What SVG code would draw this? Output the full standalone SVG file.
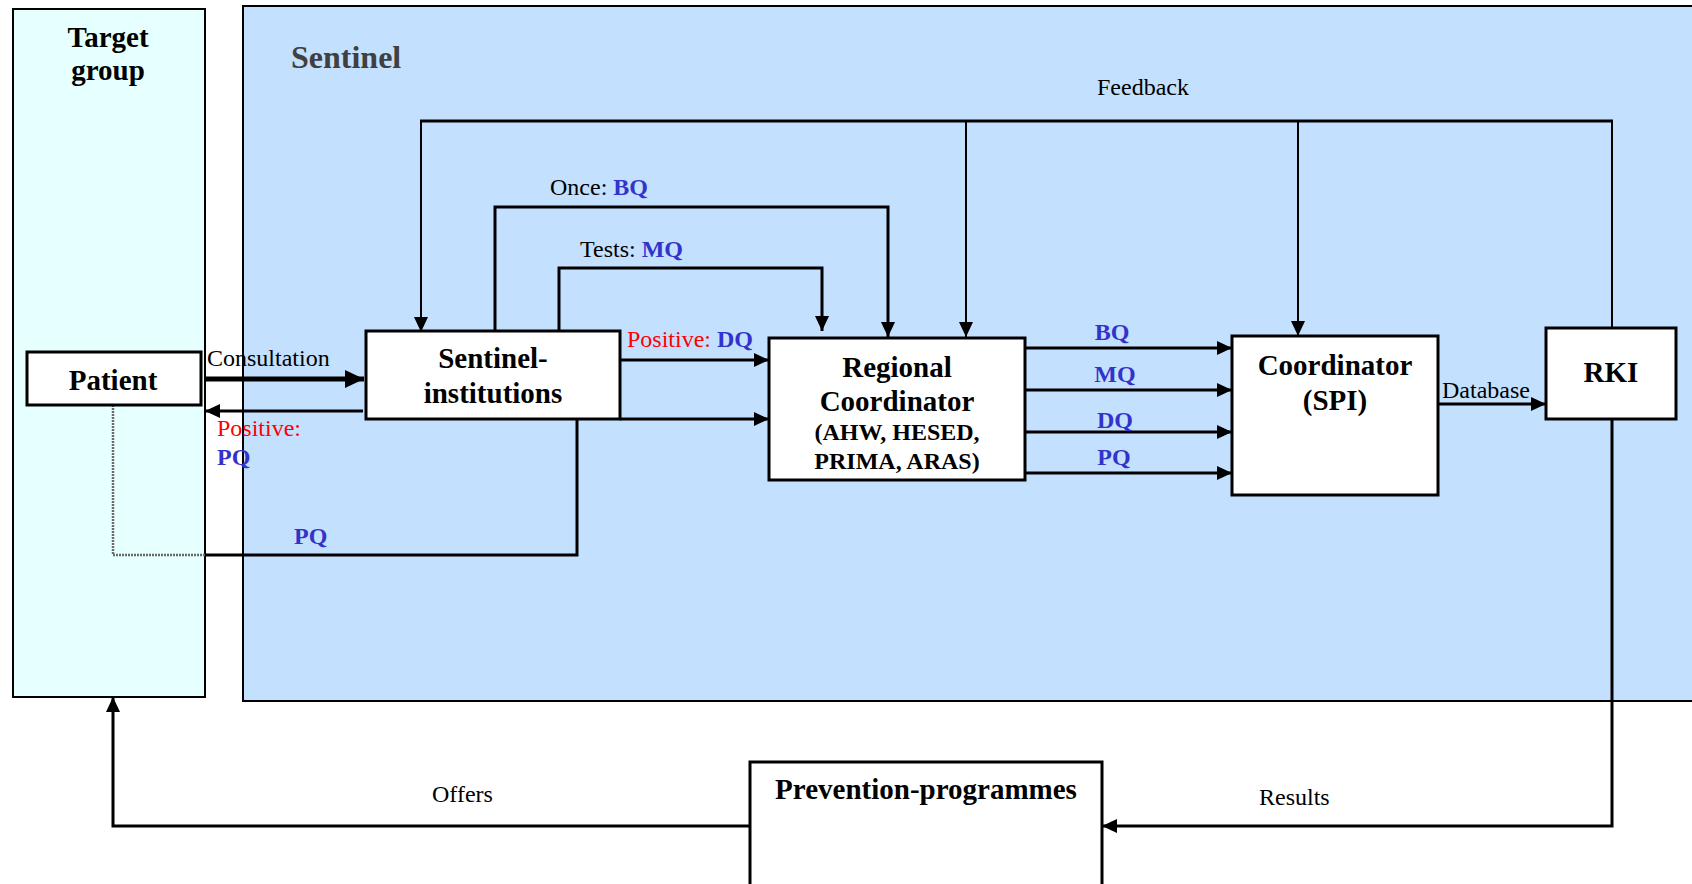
<svg xmlns="http://www.w3.org/2000/svg" width="1692" height="884" viewBox="0 0 1692 884">
<style>
.t{font-family:"Liberation Serif","Times New Roman",serif;fill:#000}
.lbl{font-size:24px}
.bt{font-size:29px;font-weight:bold;text-anchor:middle}
.st{font-size:24px;font-weight:bold;text-anchor:middle}
.blue{fill:#3333CC;font-weight:bold}
.red{fill:#FF0000}
.box{fill:#fff;stroke:#000;stroke-width:3}
.ln{fill:none;stroke:#000;stroke-width:3}
.thin{fill:none;stroke:#000;stroke-width:2}
</style>
<defs>
<marker id="ah" markerUnits="userSpaceOnUse" markerWidth="15" markerHeight="14" refX="15" refY="7" orient="auto">
<path d="M0,0 L15,7 L0,14 z" fill="#000"/>
</marker>
<marker id="ahb" markerUnits="userSpaceOnUse" markerWidth="19" markerHeight="18" refX="19" refY="9" orient="auto">
<path d="M0,0 L19,9 L0,18 z" fill="#000"/>
</marker>
</defs>
<rect width="1692" height="884" fill="#fff"/>
<g id="target-group">
<rect x="13" y="9" width="192" height="688" fill="#E6FFFF" stroke="#000" stroke-width="2"/>
<text class="t bt" x="108" y="47">Target</text>
<text class="t bt" x="108" y="80">group</text>
</g>
<g id="sentinel">
<rect x="243" y="6" width="1480" height="695" fill="#C4E0FF" stroke="#000" stroke-width="2"/>
<text class="t" x="291" y="68" font-size="32" font-weight="bold" style="fill:#404040">Sentinel</text>
</g>
<g id="connectors">
<line class="ln" x1="205" y1="379" x2="364" y2="379" style="stroke-width:5" marker-end="url(#ahb)"/>
<line class="ln" x1="363" y1="411" x2="205" y2="411" marker-end="url(#ah)"/>
<line class="ln" x1="420" y1="121" x2="1613" y2="121"/>
<line class="thin" x1="421" y1="121" x2="421" y2="332" marker-end="url(#ah)"/>
<line class="thin" x1="966" y1="121" x2="966" y2="337" marker-end="url(#ah)"/>
<line class="thin" x1="1298" y1="121" x2="1298" y2="336" marker-end="url(#ah)"/>
<line class="thin" x1="1612" y1="121" x2="1612" y2="328"/>
<path class="ln" d="M495,331 V207 H888 V337" marker-end="url(#ah)"/>
<path class="ln" d="M559,331 V268 H822 V331" marker-end="url(#ah)"/>
<line class="ln" x1="620" y1="360" x2="769" y2="360" marker-end="url(#ah)"/>
<line class="ln" x1="620" y1="419" x2="769" y2="419" marker-end="url(#ah)"/>
<line class="ln" x1="1025" y1="348" x2="1232" y2="348" marker-end="url(#ah)"/>
<line class="ln" x1="1025" y1="390" x2="1232" y2="390" marker-end="url(#ah)"/>
<line class="ln" x1="1025" y1="432" x2="1232" y2="432" marker-end="url(#ah)"/>
<line class="ln" x1="1025" y1="473" x2="1232" y2="473" marker-end="url(#ah)"/>
<line class="ln" x1="1438" y1="404" x2="1546" y2="404" marker-end="url(#ah)"/>
<path class="ln" d="M1612,419 V826 H1102" marker-end="url(#ah)"/>
<path class="ln" d="M750,826 H113 V697" marker-end="url(#ah)"/>
<path d="M113,405 V555 H205" fill="none" stroke="#6a6a6a" stroke-width="2.5" stroke-dasharray="2 1"/>
<path class="ln" d="M205,555 H577 V419"/>
<text class="t lbl" x="1143" y="95" text-anchor="middle">Feedback</text>
<text class="t lbl" x="550" y="195">Once: <tspan class="blue">BQ</tspan></text>
<text class="t lbl" x="580" y="257">Tests: <tspan class="blue">MQ</tspan></text>
<text class="t lbl" x="627" y="347"><tspan class="red">Positive: </tspan><tspan class="blue">DQ</tspan></text>
<text class="t lbl" x="207" y="366">Consultation</text>
<text class="t lbl red" x="217" y="436">Positive:</text>
<text class="t lbl blue" x="217" y="465">PQ</text>
<text class="t lbl blue" x="294" y="544">PQ</text>
<text class="t lbl blue" x="1112" y="340" text-anchor="middle">BQ</text>
<text class="t lbl blue" x="1115" y="382" text-anchor="middle">MQ</text>
<text class="t lbl blue" x="1115" y="428" text-anchor="middle">DQ</text>
<text class="t lbl blue" x="1114" y="465" text-anchor="middle">PQ</text>
<text class="t lbl" x="1442" y="398">Database</text>
<text class="t lbl" x="1259" y="805">Results</text>
<text class="t lbl" x="432" y="802">Offers</text>
</g>
<g id="patient">
<rect class="box" x="27" y="352" width="174" height="53"/>
<text class="t bt" x="113" y="390">Patient</text>
</g>
<g id="sentinel-institutions">
<rect class="box" x="366" y="331" width="254" height="88"/>
<text class="t bt" x="493" y="368">Sentinel-</text>
<text class="t bt" x="493" y="403">institutions</text>
</g>
<g id="regional-coordinator">
<rect class="box" x="769" y="338" width="256" height="142"/>
<text class="t bt" x="897" y="377">Regional</text>
<text class="t bt" x="897" y="411">Coordinator</text>
<text class="t st" x="897" y="440">(AHW, HESED,</text>
<text class="t st" x="897" y="469">PRIMA, ARAS)</text>
</g>
<g id="coordinator-spi">
<rect class="box" x="1232" y="336" width="206" height="159"/>
<text class="t bt" x="1335" y="375">Coordinator</text>
<text class="t bt" x="1335" y="410">(SPI)</text>
</g>
<g id="rki">
<rect class="box" x="1546" y="328" width="130" height="91"/>
<text class="t bt" x="1611" y="382">RKI</text>
</g>
<g id="prevention-programmes">
<rect class="box" x="750" y="762" width="352" height="140"/>
<text class="t bt" x="926" y="799">Prevention-programmes</text>
</g>
</svg>
